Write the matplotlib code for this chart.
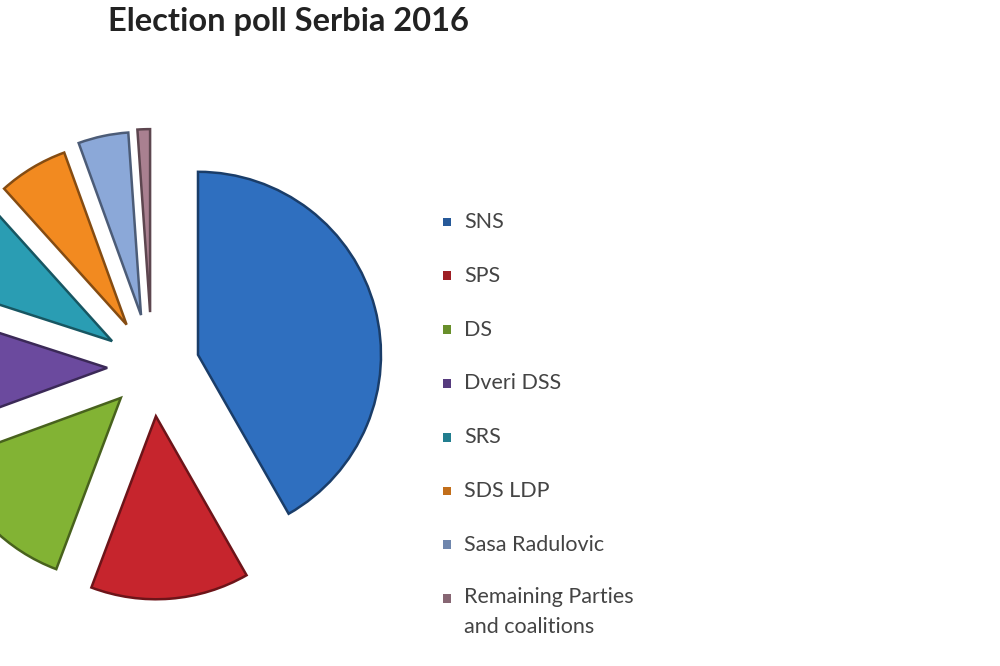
import matplotlib.pyplot as plt
import matplotlib.colors as mcolors

parties = ['SNS', 'SPS', 'DS', 'Dveri DSS', 'SRS', 'SDS LDP',
           'Sasa Radulovic', 'Remaining Parties\nand coalitions']
shares = [41.5, 13.9, 13.6, 10.5, 8.3, 6.1, 4.4, 1.1]
colors = ['#2f6fbf', '#c6252d', '#82b334', '#6b4a9e', '#2a9db3',
          '#f28a20', '#8ba8d8', '#a98090']
explode = [0.26, 0.27, 0.24, 0.245, 0.26, 0.27, 0.29, 0.3]

title = 'Election poll Serbia 2016'


def darker(c, f=0.55):
    r, g, b = mcolors.to_rgb(c)
    return (r * f, g * f, b * f)


def main():
    fig = plt.figure(figsize=(10, 6.66), dpi=100)
    ax = fig.add_axes([0, 0, 1, 1])

    radius = 183
    # pie offsets are in data units, so scale by the radius
    wedges, _ = ax.pie(shares, colors=colors,
                       explode=[e * radius for e in explode],
                       startangle=90, counterclock=False,
                       center=(152, 299), radius=radius, frame=True,
                       wedgeprops=dict(linewidth=1.8))
    for w, c in zip(wedges, colors):
        w.set_edgecolor(darker(c))
    ax.set_xlim(0, 1000)
    ax.set_ylim(0, 666)
    ax.set_aspect('equal')
    ax.axis('off')

    # legend drawn by hand to match the spacing
    y0 = 666 - 222
    step = 53.8
    for i, (name, c) in enumerate(zip(parties, colors)):
        y = y0 - i * step
        ax.scatter([447], [y], marker='s', s=40, color=darker(c, 0.8),
                   edgecolor='none')
        if '\n' in name:
            ax.text(464, y + 12, name, fontsize=15.5, family='Lato',
                    color='#444444', va='top', linespacing=1.65)
        else:
            ax.text(464, y, name, fontsize=15.5, family='Lato',
                    color='#444444', va='center')

    fig.text(0.108, 1 - 22 / 666, title, fontsize=23.5, family='Lato',
             weight='bold', color='#222222', va='center', ha='left')

    fig.savefig('out.png', dpi=100, facecolor='white')


if __name__ == '__main__':
    main()
